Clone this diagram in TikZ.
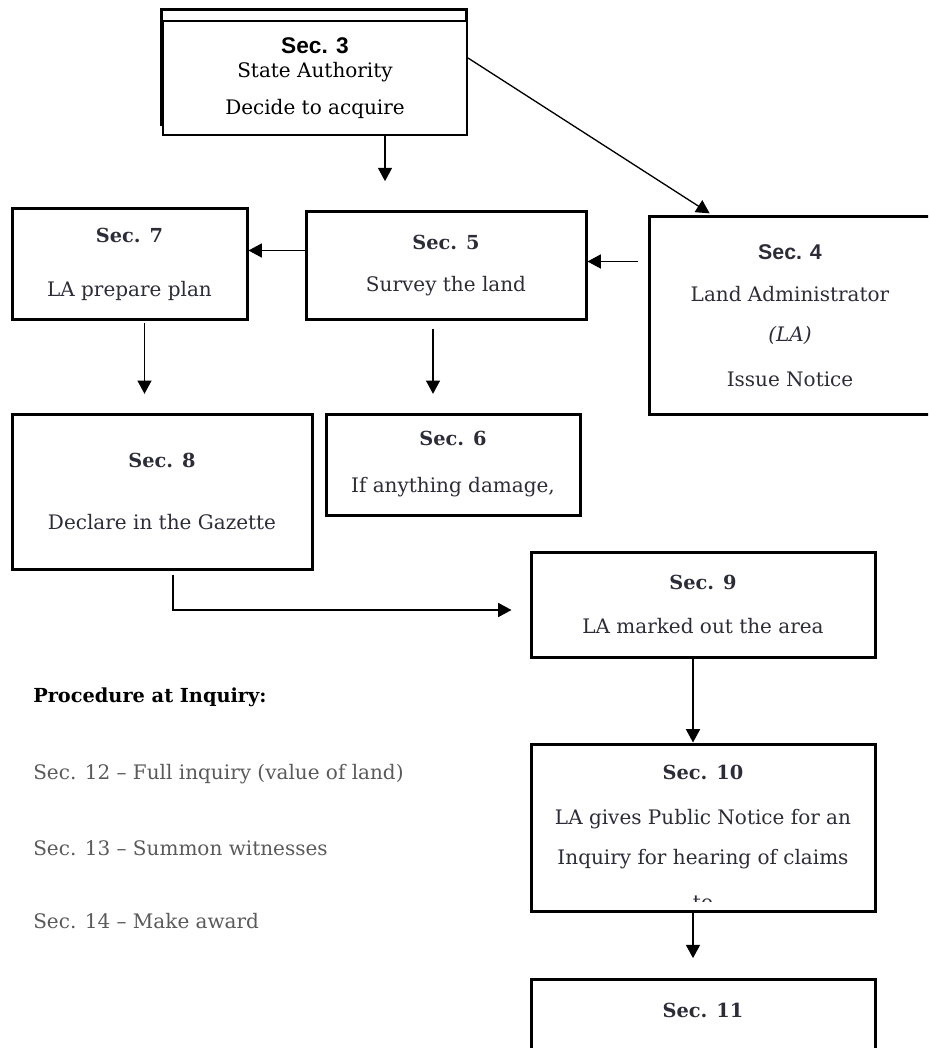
\documentclass[tikz,border=0pt]{standalone}
\usepackage{fontspec}
\setmainfont{DejaVu Serif}
\newfontfamily\headsans{Liberation Sans}
\usepackage{tikz}
\usetikzlibrary{arrows.meta, positioning, calc}
\definecolor{bodyink}{RGB}{45, 45, 58}
\definecolor{listgray}{RGB}{90, 90, 90}
\newcommand{\sechead}[1]{{\fontsize{14.5}{18}\selectfont\bfseries #1}}
\newcommand{\sanshead}[2]{{\headsans\fontsize{#1}{18}\selectfont\bfseries #2}}
\tikzset{
    secbox/.style 2 args={draw, line width=2.25pt, fill=white, minimum width=#1*0.75pt,
        minimum height=#2*0.75pt, inner sep=0pt, align=center, text=bodyink,
        font=\fontsize{15}{18}\selectfont},
    arr/.style={line width=1.2pt, -{Triangle[length=10pt, width=10.5pt]}},
    listline/.style={anchor=west, inner sep=0pt, text=listgray, font=\fontsize{15}{18}\selectfont}
}

\begin{document}
\begin{tikzpicture}[x=0.75pt, y=-0.75pt]
    \useasboundingbox (0,0) rectangle (928,1048);
    \clip (0,0) rectangle (928,1048);

    % Sec. 3, double frame
    \node[secbox={305}{115}] (s3b) at (313.5,67.5) {};
    \node[secbox={304}{114}, line width=1.5pt, text=black] (s3) at (315,78)
        {\sanshead{17}{Sec. 3}\\State Authority\\[9.75pt]Decide to acquire};

    % First row
    \node[secbox={235}{110}] (s7) at (129.5,264) {\sechead{Sec. 7}\\[22.5pt]LA prepare plan};
    \node[secbox={280}{107}] (s5) at (446,265.5) {\sechead{Sec. 5}\\[13.5pt]Survey the land};
    \node[secbox={282}{197}] (s4) at (790,315.5)
        {\sanshead{16}{Sec. 4}\\[13.5pt]Land Administrator\\[12pt]\textit{(LA)}\\[15.75pt]Issue Notice};

    % Second row
    \node[secbox={300}{155}] (s8) at (162,491.5) {\sechead{Sec. 8}\\[28.5pt]Declare in the Gazette};
    \node[secbox={254}{101}] (s6) at (453,464.5) {\sechead{Sec. 6}\\[17.25pt]If anything damage,};

    % Right column
    \node[secbox={344}{105}] (s9) at (703,604.5) {\sechead{Sec. 9}\\[15pt]LA marked out the area};
    \node[secbox={344}{167}] (s10) at (703,827.5) {};
    \node[align=center, inner sep=0pt, text=bodyink, font=\fontsize{15}{18}\selectfont] (s10t) at (703,817.5)
        {\sechead{Sec. 10}\\[15.75pt]LA gives Public Notice for an\\[12pt]Inquiry for hearing of claims};
    \begin{scope}
        \clip (560,885) rectangle (850,901);
        \node[anchor=base, inner sep=0pt, text=bodyink, font=\fontsize{15}{18}\selectfont] (s10c) at (703,909) {to};
    \end{scope}
    \node[secbox={344}{130}] (s11) at (703,1044) {};
    \node[inner sep=0pt, text=bodyink] (s11t) at (703,1010) {\sechead{Sec. 11}};

    % Procedure at inquiry
    \node[listline, text=black, font=\fontsize{14.5}{18}\selectfont\bfseries] (proc) at (33,697) {Procedure at Inquiry:};
    \node[listline] (l12) at (33,774) {Sec. 12 – Full inquiry (value of land)};
    \node[listline] (l13) at (33,848) {Sec. 13 – Summon witnesses};
    \node[listline] (l14) at (33,921) {Sec. 14 – Make award};

    % Arrows
    \coordinate (a3) at (385,0);
    \draw[arr, shorten >=22pt] (s3.south -| a3) -- (s5.north -| a3);
    \draw[arr, line width=1pt, shorten >=3pt] ($(s3.east)+(0,-20)$) -- ($(s4.north)+(-77,0)$);
    \draw[arr] ($(s4.west)+(-10,-54)$) coordinate (c4) -- (c4 -| s5.east);
    \draw[arr] ($(s5.west)+(0,-15)$) coordinate (c5) -- (c5 -| s7.east);
    \draw[arr, shorten >=14pt] ($(s7.south)+(15,2)$) coordinate (c7) -- (c7 |- s8.north);
    \draw[arr, shorten >=14pt] ($(s5.south)+(-13,8)$) coordinate (c5s) -- (c5s |- s6.north);
    \draw[arr, shorten >=13.5pt] ($(s8.south)+(11,4)$) |- ($(s9.west)+(0,5.5)$);
    \draw[arr] ($(s9.south)+(-10,0)$) coordinate (c9) -- (c9 |- s10.north);
    \draw[arr, shorten >=14.5pt] ($(s10.south)+(-10,0)$) coordinate (c10) -- (c10 |- s11.north);
\end{tikzpicture}
\end{document}
